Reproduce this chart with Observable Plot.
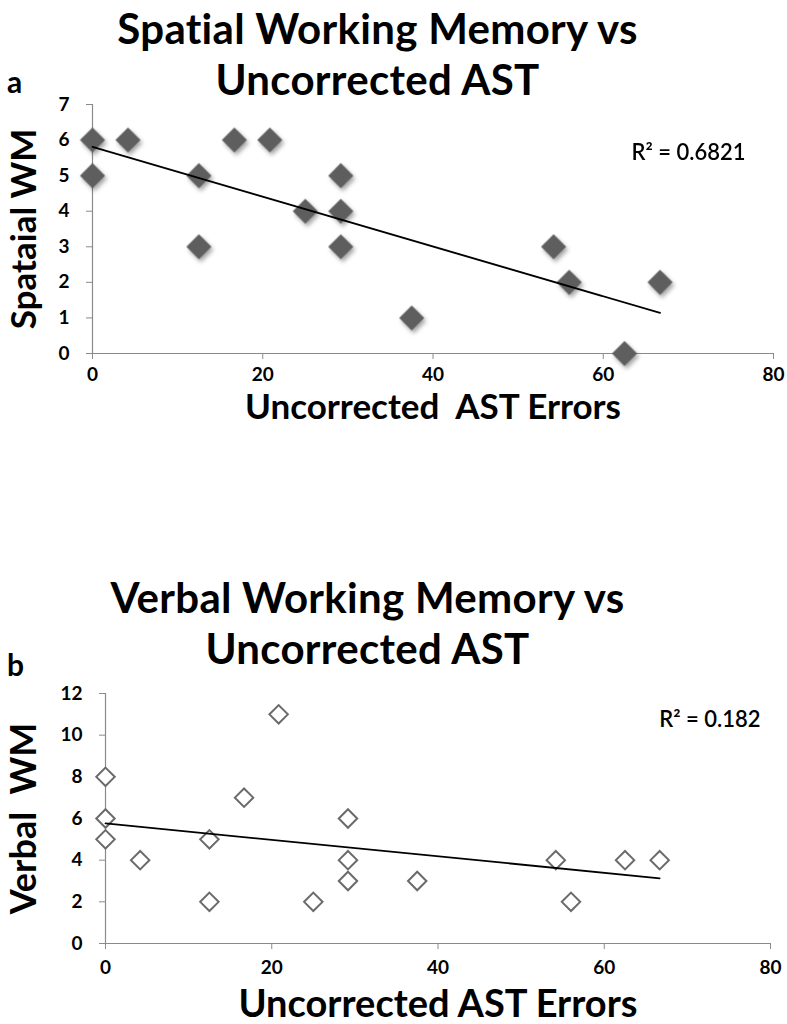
<!DOCTYPE html>
<html>
<head>
<meta charset="utf-8">
<script src="https://cdn.jsdelivr.net/npm/d3@7"></script>
<script src="https://cdn.jsdelivr.net/npm/@observablehq/plot@0.6"></script>
<style>
  html, body { margin: 0; padding: 0; background: #fff; }
  #page { position: relative; width: 787px; height: 1024px; font-family: Lato, "Open Sans", sans-serif; color: #000; overflow: hidden; }
  .title { position: absolute; left: 0; width: 755px; text-align: center; font-weight: 700; font-size: 42px; line-height: 40px; letter-spacing: 0.3px; z-index: 2; }
  .panel { position: absolute; left: 0; font-weight: 700; font-size: 30px; line-height: 30px; z-index: 2; }
  .chart { position: absolute; left: 0; z-index: 1; }
  .shadowed { filter: drop-shadow(2px 3px 2px rgba(0,0,0,0.35)); }
</style>
</head>
<body>
<div id="page">
  <div class="title" style="top:8px;">Spatial Working Memory vs</div>
  <div class="title" style="top:59px;">Uncorrected AST</div>
  <div class="panel" style="top:66px;left:7px;">a</div>
  <div class="chart" id="chartA" style="top:90px;"></div>
  <div class="title" style="top:577px;width:735px;">Verbal Working Memory vs</div>
  <div class="title" style="top:628px;width:735px;">Uncorrected AST</div>
  <div class="panel" style="top:649px;left:7px;">b</div>
  <div class="chart" id="chartB" style="top:680px;"></div>
</div>
<script>
// Uncorrected AST errors (x) for each participant, panel a
const astErrorsA = [0, 0, 4.17, 12.5, 12.5, 16.67, 20.83, 25, 29.17, 29.17, 29.17, 37.5, 54.17, 56, 62.5, 66.67];
const spatialWM  = [6, 5, 6, 5, 3, 6, 6, 4, 5, 4, 3, 1, 3, 2, 0, 2];
// Panel b
const astErrorsB = [0, 0, 0, 4.17, 12.5, 12.5, 16.67, 20.83, 25, 29.17, 29.17, 29.17, 37.5, 54.17, 56, 62.5, 66.67];
const verbalWM   = [8, 6, 5, 4, 5, 2, 7, 11, 2, 6, 4, 3, 3, 4, 2, 4, 4];
const xTicks = [0, 20, 40, 60, 80];
const yTicksA = [0, 1, 2, 3, 4, 5, 6, 7];
const yTicksB = [0, 2, 4, 6, 8, 10, 12];
const r2A = "R² = 0.6821";
const r2B = "R² = 0.182";

const dataA = astErrorsA.map((x, i) => ({x, y: spatialWM[i]}));
const dataB = astErrorsB.map((x, i) => ({x, y: verbalWM[i]}));

const font = "Lato, 'Open Sans', sans-serif";
const fmt = d3.format("d");

const chartA = Plot.plot({
  width: 787, height: 340,
  marginLeft: 92, marginRight: 14, marginTop: 14, marginBottom: 77,
  style: {fontFamily: font, background: "transparent", overflow: "visible"},
  x: {domain: [0, 80], ticks: xTicks},
  y: {domain: [0, 7], ticks: yTicksA},
  marks: [
    Plot.ruleX([0], {stroke: "#8a8a8a", strokeWidth: 1.2}),
    Plot.ruleY([0], {stroke: "#8a8a8a", strokeWidth: 1.2}),
    Plot.axisX({ticks: xTicks, tickFormat: fmt, tickSize: 6, tickPadding: 8, stroke: "#8a8a8a", fill: "black", fontSize: 19, fontWeight: 700, label: null}),
    Plot.axisY({ticks: yTicksA, tickFormat: fmt, tickSize: 6, tickPadding: 17, stroke: "#8a8a8a", fill: "black", fontSize: 19, fontWeight: 700, label: null}),
    Plot.dot(dataA, {x: "x", y: "y", symbol: "diamond2", r: 11.3, fill: "#5e5e5e", stroke: "none", className: "shadowed"}),
    Plot.linearRegressionY(dataA, {x: "x", y: "y", ci: 0, stroke: "black", strokeWidth: 1.8}),
    Plot.text([r2A], {frameAnchor: "top-right", dx: -28, dy: 40, textAnchor: "end", fontSize: 22, fontWeight: 600, fill: "black"}),
    Plot.text(["Uncorrected  AST Errors"], {frameAnchor: "bottom", dy: 54, fontSize: 35, fontWeight: 700, fill: "black", lineAnchor: "middle"}),
    Plot.text(["Spataial WM"], {frameAnchor: "left", dx: -68, rotate: -90, textAnchor: "middle", fontSize: 35, fontWeight: 700, fill: "black", lineAnchor: "middle"})
  ]
});
document.getElementById("chartA").appendChild(chartA);

const chartB = Plot.plot({
  width: 787, height: 340,
  marginLeft: 105, marginRight: 17, marginTop: 13, marginBottom: 77,
  style: {fontFamily: font, background: "transparent", overflow: "visible"},
  x: {domain: [0, 80], ticks: xTicks},
  y: {domain: [0, 12], ticks: yTicksB},
  marks: [
    Plot.ruleX([0], {stroke: "#8a8a8a", strokeWidth: 1.2}),
    Plot.ruleY([0], {stroke: "#8a8a8a", strokeWidth: 1.2}),
    Plot.axisX({ticks: xTicks, tickFormat: fmt, tickSize: 6, tickPadding: 11, stroke: "#8a8a8a", fill: "black", fontSize: 19, fontWeight: 700, label: null}),
    Plot.axisY({ticks: yTicksB, tickFormat: fmt, tickSize: 6, tickPadding: 17, stroke: "#8a8a8a", fill: "black", fontSize: 19, fontWeight: 700, label: null}),
    Plot.dot(dataB, {x: "x", y: "y", symbol: "diamond2", r: 8.3, fill: "white", stroke: "#6a6a6a", strokeWidth: 2}),
    Plot.linearRegressionY(dataB, {x: "x", y: "y", ci: 0, stroke: "black", strokeWidth: 1.8}),
    Plot.text([r2B], {frameAnchor: "top-right", dx: -10, dy: 18, textAnchor: "end", fontSize: 22, fontWeight: 600, fill: "black"}),
    Plot.text(["Uncorrected AST Errors"], {frameAnchor: "bottom", dy: 61, fontSize: 38, fontWeight: 700, fill: "black", lineAnchor: "middle"}),
    Plot.text(["Verbal  WM"], {frameAnchor: "left", dx: -81, rotate: -90, textAnchor: "middle", fontSize: 36, fontWeight: 700, fill: "black", lineAnchor: "middle"})
  ]
});
document.getElementById("chartB").appendChild(chartB);
</script>
</body>
</html>
